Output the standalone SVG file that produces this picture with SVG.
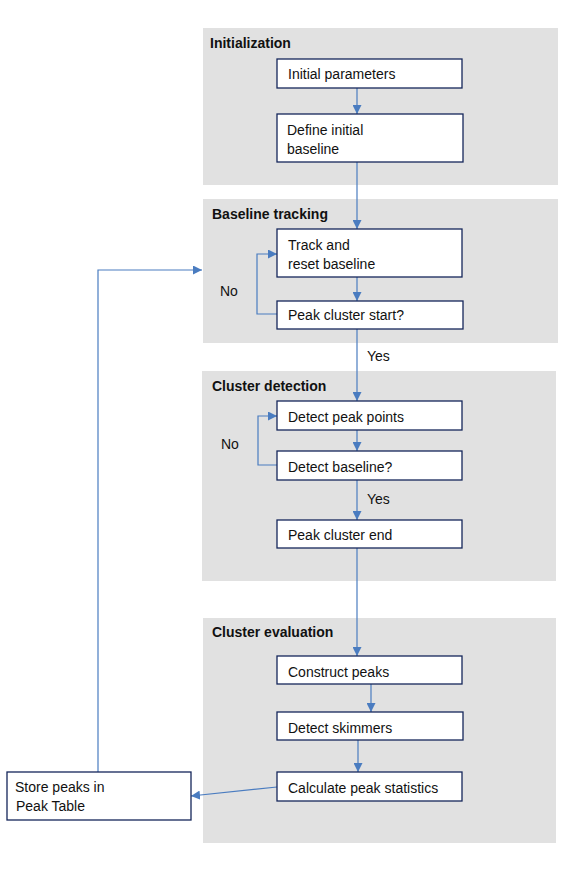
<svg xmlns="http://www.w3.org/2000/svg" width="586" height="869" viewBox="0 0 586 869">
<style>
.panel{fill:#e1e1e1;stroke:none}
.box{fill:#fff;stroke:#14265a;stroke-width:1.3}
.t{font-family:"Liberation Sans",Arial,sans-serif;font-size:14px;fill:#111}
.h{font-family:"Liberation Sans",Arial,sans-serif;font-size:14px;font-weight:bold;fill:#111}
.c{fill:none;stroke:#4a7cc0;stroke-width:1.2}
</style>
<defs>
<marker id="ah" viewBox="0 0 10 10" refX="10" refY="5" markerWidth="9" markerHeight="9" markerUnits="userSpaceOnUse" orient="auto">
<path d="M0,0 L10,5 L0,10 z" fill="#4a7cc0"/>
</marker>
</defs>
<g id="panel-init"><rect class="panel" x="203" y="28" width="355" height="157"/><text class="h" x="210" y="48">Initialization</text></g>
<g id="panel-tracking"><rect class="panel" x="203" y="199" width="355" height="144"/><text class="h" x="212" y="219">Baseline tracking</text></g>
<g id="panel-detection"><rect class="panel" x="202" y="371" width="354" height="210"/><text class="h" x="212" y="391">Cluster detection</text></g>
<g id="panel-evaluation"><rect class="panel" x="203" y="618" width="353" height="225"/><text class="h" x="212" y="637">Cluster evaluation</text></g>
<g id="connectors">
<line class="c" x1="357" y1="88" x2="357" y2="114" marker-end="url(#ah)"/>
<line class="c" x1="357" y1="162" x2="357" y2="229" marker-end="url(#ah)"/>
<line class="c" x1="357" y1="277" x2="357" y2="301" marker-end="url(#ah)"/>
<polyline class="c" points="277,314 257,314 257,254 277,254" marker-end="url(#ah)"/>
<line class="c" x1="357" y1="329" x2="357" y2="401" marker-end="url(#ah)"/>
<line class="c" x1="357" y1="430" x2="357" y2="451" marker-end="url(#ah)"/>
<polyline class="c" points="277,465 258,465 258,416 277,416" marker-end="url(#ah)"/>
<line class="c" x1="357" y1="480" x2="357" y2="520" marker-end="url(#ah)"/>
<line class="c" x1="357" y1="548" x2="357" y2="656" marker-end="url(#ah)"/>
<line class="c" x1="371" y1="684" x2="371" y2="712" marker-end="url(#ah)"/>
<line class="c" x1="358" y1="740" x2="358" y2="772" marker-end="url(#ah)"/>
<line class="c" x1="277" y1="787" x2="191" y2="796" marker-end="url(#ah)"/>
<polyline class="c" points="98,772 98,270 202,270" marker-end="url(#ah)"/>
<text class="t" x="220" y="296">No</text>
<text class="t" x="367" y="361">Yes</text>
<text class="t" x="221" y="449">No</text>
<text class="t" x="367" y="504">Yes</text>
</g>
<g id="n-initial-params"><rect class="box" x="277" y="59" width="185" height="29"/><text class="t" x="288" y="79">Initial parameters</text></g>
<g id="n-define-baseline"><rect class="box" x="277" y="114" width="186" height="48"/><text class="t" x="287" y="135">Define initial</text><text class="t" x="287" y="154">baseline</text></g>
<g id="n-track"><rect class="box" x="277" y="229" width="185" height="48"/><text class="t" x="288" y="250">Track and</text><text class="t" x="288" y="269">reset baseline</text></g>
<g id="n-start"><rect class="box" x="277" y="301" width="186" height="28"/><text class="t" x="288" y="320">Peak cluster start?</text></g>
<g id="n-detect-points"><rect class="box" x="277" y="401" width="185" height="29"/><text class="t" x="288" y="422">Detect peak points</text></g>
<g id="n-detect-baseline"><rect class="box" x="277" y="451" width="185" height="29"/><text class="t" x="288" y="472">Detect baseline?</text></g>
<g id="n-end"><rect class="box" x="277" y="520" width="185" height="28"/><text class="t" x="288" y="540">Peak cluster end</text></g>
<g id="n-construct"><rect class="box" x="277" y="656" width="185" height="28"/><text class="t" x="288" y="677">Construct peaks</text></g>
<g id="n-skimmers"><rect class="box" x="277" y="712" width="186" height="28"/><text class="t" x="288" y="733">Detect skimmers</text></g>
<g id="n-stats"><rect class="box" x="277" y="772" width="185" height="29"/><text class="t" x="288" y="793">Calculate peak statistics</text></g>
<g id="n-store"><rect class="box" x="7" y="772" width="184" height="48"/><text class="t" x="15" y="792">Store peaks in</text><text class="t" x="16" y="811">Peak Table</text></g>
</svg>
